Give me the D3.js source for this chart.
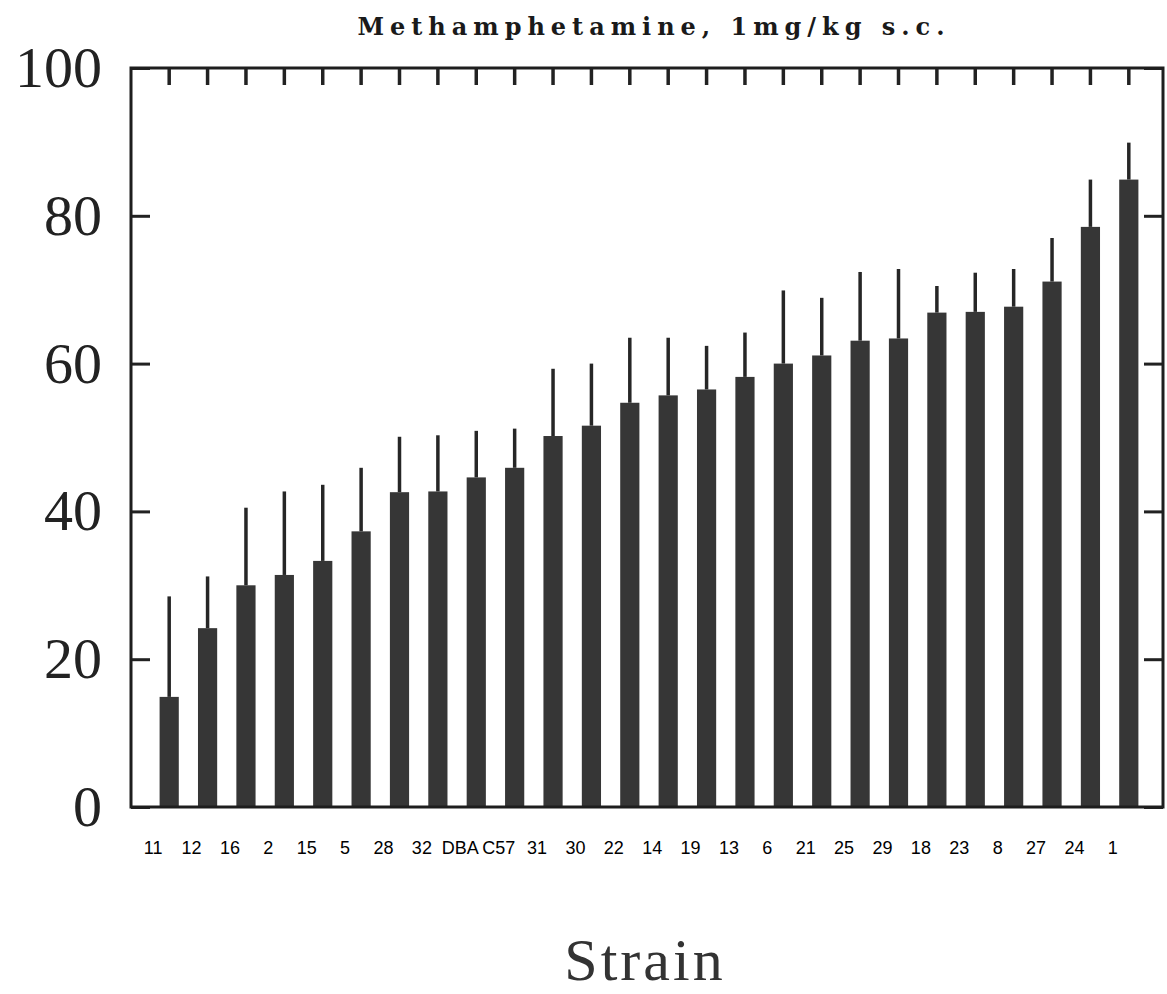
<!DOCTYPE html>
<html>
<head>
<meta charset="utf-8">
<script src="https://cdn.jsdelivr.net/npm/d3@7"></script>
<style>
  body { margin: 0; background: #fff; }
  svg { display: block; }
</style>
</head>
<body>
<svg width="1167" height="994"></svg>
<script>
// strains, ordered as on the x axis
var strains = ["11","12","16","2","15","5","28","32","DBA","C57","31","30","22",
               "14","19","13","6","21","25","29","18","23","8","27","24","1"];

// bar heights (mean)
var means = [14.9, 24.2, 30.0, 31.4, 33.3, 37.3, 42.6, 42.7, 44.6, 45.9, 50.2, 51.6, 54.7,
             55.7, 56.5, 58.2, 60.0, 61.1, 63.1, 63.4, 66.9, 67.0, 67.7, 71.1, 78.5, 84.9];

// top of each error line
var upper = [28.5, 31.2, 40.5, 42.7, 43.6, 45.9, 50.1, 50.3, 50.9, 51.2, 59.3, 60.0, 63.5,
             63.5, 62.4, 64.2, 69.9, 68.9, 72.4, 72.8, 70.5, 72.3, 72.8, 77.0, 84.9, 89.9];

var yTicks = [0, 20, 40, 60, 80, 100];

var title = "Methamphetamine, 1mg/kg s.c.",
    xTitle = "Strain";

var svg = d3.select("svg");

var frame = {left: 131, top: 68, right: 1163, bottom: 807};

var x = d3.scaleBand()
    .domain(strains)
    .range([150, 1148])
    .paddingInner(0.5)
    .paddingOuter(0.25);

var y = d3.scaleLinear()
    .domain([0, 100])
    .range([frame.bottom, frame.top]);

var data = strains.map(function(s, i) {
  return {strain: s, mean: means[i], hi: upper[i]};
});

// bars
svg.append("g")
  .selectAll("rect")
  .data(data)
  .enter().append("rect")
    .attr("x", function(d) { return x(d.strain); })
    .attr("y", function(d) { return y(d.mean); })
    .attr("width", x.bandwidth())
    .attr("height", function(d) { return y(0) - y(d.mean); })
    .attr("fill", "#363636");

// error lines (upward only)
svg.append("g")
  .selectAll("line")
  .data(data)
  .enter().append("line")
    .attr("x1", function(d) { return x(d.strain) + x.bandwidth() / 2; })
    .attr("x2", function(d) { return x(d.strain) + x.bandwidth() / 2; })
    .attr("y1", function(d) { return y(d.mean); })
    .attr("y2", function(d) { return y(d.hi); })
    .attr("stroke", "#262626")
    .attr("stroke-width", 3.5);

// left axis: labels outside, ticks inside
var leftAxis = svg.append("g")
    .attr("transform", "translate(" + frame.left + ",0)")
    .call(d3.axisLeft(y).tickValues(yTicks).tickSizeInner(-19).tickSizeOuter(0).tickPadding(29));
leftAxis.select(".domain").remove();
leftAxis.selectAll("line").attr("stroke", "#222").attr("stroke-width", 3);
leftAxis.selectAll("text")
    .attr("font-family", "'Liberation Serif', 'Times New Roman', serif")
    .attr("font-size", 58)
    .attr("fill", "#222");

// right axis: ticks only
var rightAxis = svg.append("g")
    .attr("transform", "translate(" + frame.right + ",0)")
    .call(d3.axisRight(y).tickValues(yTicks).tickSizeInner(-19).tickSizeOuter(0).tickFormat(""));
rightAxis.select(".domain").remove();
rightAxis.selectAll("line").attr("stroke", "#222").attr("stroke-width", 3);

// top axis: short ticks hanging down at each strain
var topAxis = svg.append("g")
    .attr("transform", "translate(0," + frame.top + ")")
    .call(d3.axisBottom(x).tickSizeInner(17).tickSizeOuter(0).tickFormat(""));
topAxis.select(".domain").remove();
topAxis.selectAll("line").attr("stroke", "#222").attr("stroke-width", 3.5);

// bottom axis: strain labels
var bottomAxis = svg.append("g")
    .attr("transform", "translate(0," + frame.bottom + ")")
    .call(d3.axisBottom(x).tickSize(0).tickPadding(34));
bottomAxis.select(".domain").remove();
bottomAxis.selectAll("text")
    .attr("dx", -16)
    .attr("font-family", "'Liberation Sans', Arial, sans-serif")
    .attr("font-size", 18)
    .attr("fill", "#000");

// frame
svg.append("rect")
    .attr("x", frame.left)
    .attr("y", frame.top)
    .attr("width", frame.right - frame.left)
    .attr("height", frame.bottom - frame.top)
    .attr("fill", "none")
    .attr("stroke", "#1e1e1e")
    .attr("stroke-width", 3);

// title
svg.append("text")
    .attr("x", 651)
    .attr("y", 35)
    .attr("text-anchor", "middle")
    .attr("font-family", "'DejaVu Serif', serif")
    .attr("font-weight", "bold")
    .attr("font-size", 24)
    .attr("textLength", 587)
    .attr("lengthAdjust", "spacing")
    .attr("fill", "#1a1a1a")
    .text(title);

// x axis title
svg.append("text")
    .attr("x", 645)
    .attr("y", 980)
    .attr("text-anchor", "middle")
    .attr("font-family", "'Liberation Serif', 'Times New Roman', serif")
    .attr("font-size", 60)
    .attr("letter-spacing", 3)
    .attr("fill", "#333")
    .text(xTitle);
</script>
</body>
</html>
